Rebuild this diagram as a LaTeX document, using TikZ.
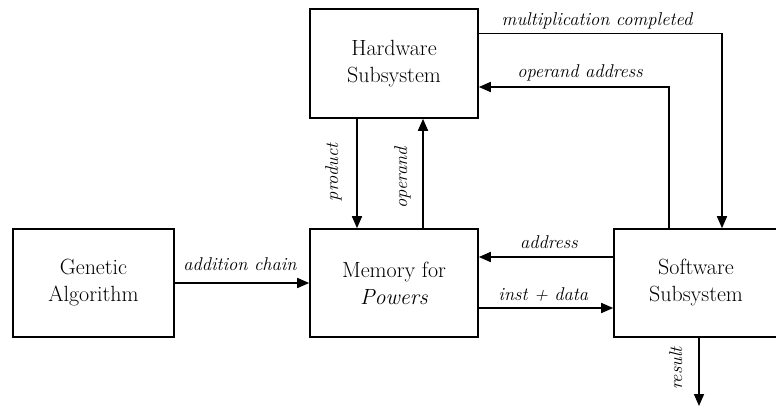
\documentclass[tikz,border=0pt]{standalone}
\usetikzlibrary{arrows.meta}

\begin{document}
\begin{tikzpicture}[x=1pt,y=-1pt,>={Triangle[length=12pt,width=10pt]},
  blk/.style={draw,rectangle,line width=1.6pt,inner sep=0pt,align=center,font=\fontsize{22}{27}\selectfont},
  flow/.style={->,line width=1.6pt},
  lbl/.style={font=\fontsize{18.5}{22}\selectfont\itshape,inner sep=0pt,anchor=base},
  vlbl/.style={lbl,rotate=90}]
  \useasboundingbox (0,0) rectangle (776,408);
  % the four blocks
  \node[blk,minimum width=168pt,minimum height=109pt] (hw) at (394,63.5) {Hardware\\Subsystem};
  \node[blk,minimum width=161pt,minimum height=108pt] (ga) at (93.5,283) {Genetic\\Algorithm};
  \node[blk,minimum width=168pt,minimum height=108pt] (mem) at (394,283) {Memory for\\\textit{Powers}};
  \node[blk,minimum width=164pt,minimum height=108pt] (sw) at (696,283) {Software\\Subsystem};
  \coordinate (res) at (699,406);
  % connections
  \draw[flow] (ga.east) -- node[lbl,pos=.485,yshift=13pt] {addition chain} (mem.west);
  \draw[flow] ([yshift=26pt]sw.west) -- node[lbl,pos=.478,yshift=9pt] {address} ([yshift=26pt]mem.east);
  \draw[flow] ([yshift=-25pt]mem.east) -- node[lbl,pos=.48,yshift=8pt] {inst + data} ([yshift=-25pt]sw.west);
  \draw[flow] ([xshift=-37pt]hw.south) -- node[xshift=-19pt,vlbl,pos=.49] {product} ([xshift=-37pt]mem.north);
  \draw[flow] ([xshift=29pt]mem.north) -- node[xshift=-16pt,vlbl,pos=.46] {operand} ([xshift=29pt]hw.south);
  \draw[flow] ([yshift=30pt]hw.east) -| node[lbl,pos=.243,yshift=8pt] {multiplication completed} ([xshift=26pt]sw.north);
  \draw[flow] ([xshift=-27pt]sw.north) |- node[lbl,pos=.734,yshift=10pt] {operand address} ([yshift=-23.5pt]hw.east);
  \draw[flow] ([xshift=3pt]sw.south) -- node[xshift=-17pt,vlbl,pos=.45] {result} (res);
\end{tikzpicture}
\end{document}
